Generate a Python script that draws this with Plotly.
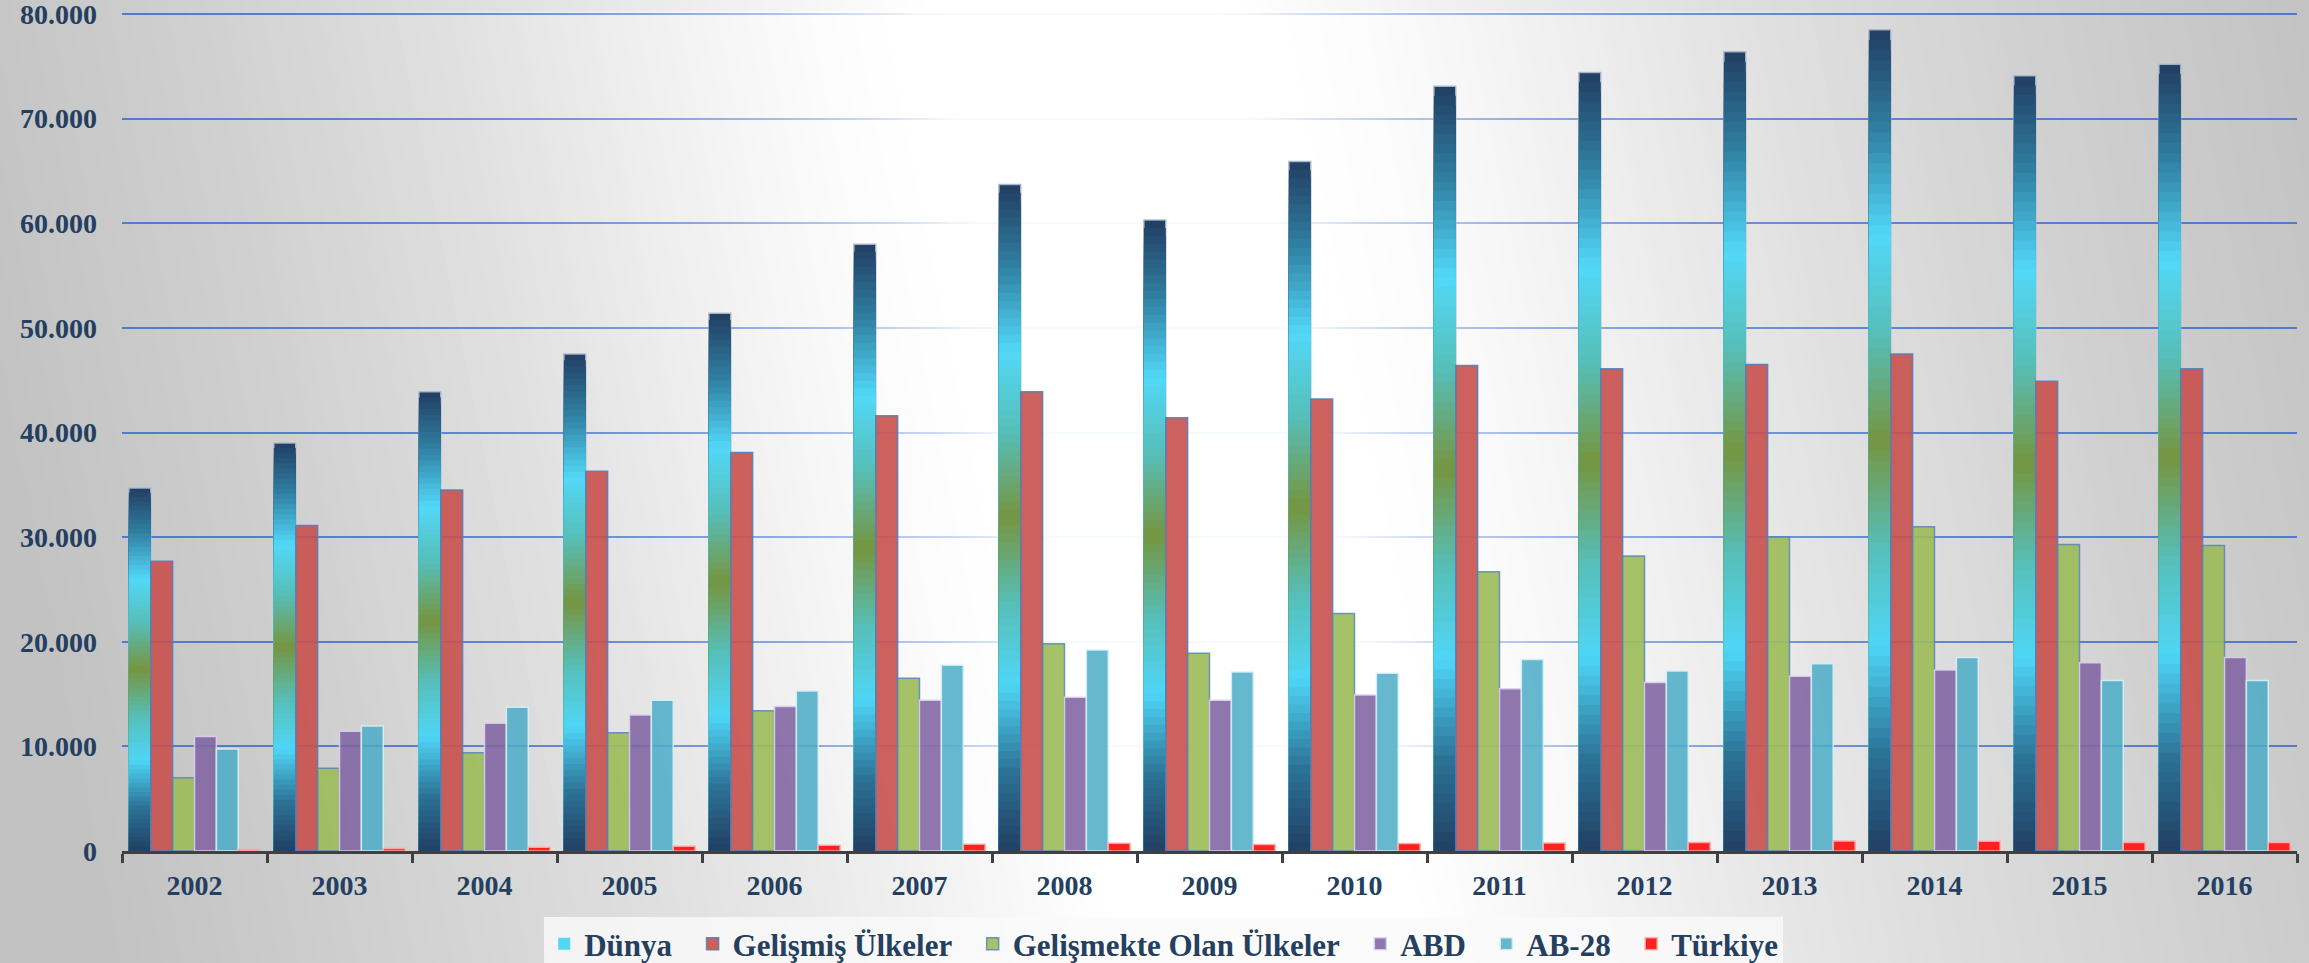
import numpy as np
import plotly.graph_objects as go

# ---------------- data ----------------
years = ["2002", "2003", "2004", "2005", "2006", "2007", "2008", "2009",
         "2010", "2011", "2012", "2013", "2014", "2015", "2016"]
dunya = [34700, 39000, 43900, 47500, 51400, 58000, 63700, 60300,
         65900, 73100, 74400, 76400, 78500, 74100, 75200]
gelismis = [27700, 31100, 34500, 36300, 38100, 41600, 43900, 41400,
            43200, 46400, 46100, 46500, 47500, 44900, 46100]
gelismekte = [7000, 7900, 9400, 11300, 13400, 16500, 19800, 18900,
              22700, 26700, 28200, 30000, 31000, 29300, 29200]
abd = [10950, 11450, 12200, 13000, 13800, 14400, 14700, 14400,
       14900, 15500, 16100, 16700, 17300, 18000, 18500]
ab28 = [9750, 11950, 13750, 14400, 15300, 17750, 19200, 17100,
        17000, 18300, 17200, 17900, 18500, 16300, 16300]
turkiye = [150, 250, 350, 450, 550, 650, 750, 610,
           710, 760, 820, 950, 920, 810, 810]
y_ticks = [0, 10000, 20000, 30000, 40000, 50000, 60000, 70000, 80000]

# ---------------- geometry / style ----------------
W, H = 2309, 963
PL, PR, P80, PB = 122, 2297, 14, 851          # plot area / 80.000 line in pixels
YMAX = 80300                                   # small headroom so the top line is drawn
scale = (PB - P80) / 80000.0                   # px per unit
PT = PB - YMAX * scale
xdom = [PL / W, PR / W]
ydom = [(H - PB) / H, (H - PT) / H]
NAVY = "#243f60"
FONT = "Liberation Serif"
GAP = "\u00a0\u00a0"                           # extra spacing between legend entries


def brightness(xp, yp):
    xc = 1080 + 0.2 * yp
    d = xp - xc
    span = np.where(d < 0, 1000.0, 1080.0)
    t = np.clip((np.abs(d) - 160) / span, 0, 1)
    return 1 - t ** 0.9


fig = go.Figure()

# subplot 1: background gradient over the whole canvas
bx = np.linspace(0, W, 90)
by = np.linspace(0, H, 30)
BX, BY = np.meshgrid(bx, by)
fig.add_trace(go.Heatmap(
    x=bx, y=by, z=brightness(BX, BY), zmin=0, zmax=1,
    colorscale=[[0, "#c2c2c2"], [0.5, "#dedede"], [1, "#ffffff"]],
    zsmooth="best", showscale=False, hoverinfo="skip",
    xaxis="x", yaxis="y"))

# subplot 2: gridlines + a white glow above them that fades them in the centre
gx = np.linspace(PL, PR, 80)
gv = np.linspace(0, YMAX, 30)
GX, GV = np.meshgrid(gx, gv)
glow = brightness(GX, PB - GV * scale) ** 3
fig.add_trace(go.Heatmap(
    x=gx, y=gv, z=glow, zmin=0, zmax=1,
    colorscale=[[0, "rgba(255,255,255,0)"], [1, "rgba(255,255,255,0.95)"]],
    zsmooth="best", showscale=False, hoverinfo="skip",
    xaxis="x2", yaxis="y2"))

# ---------------- subplot 3: bars ----------------
stops = [(0.00, (0x21, 0x3f, 0x63)), (0.12, (0x2c, 0x73, 0x96)),
         (0.25, (0x4f, 0xd6, 0xf7)), (0.37, (0x56, 0xbf, 0xb8)),
         (0.50, (0x76, 0x95, 0x40)), (0.63, (0x56, 0xbf, 0xb8)),
         (0.75, (0x52, 0xd8, 0xf8)), (0.88, (0x2f, 0x7e, 0xa0)),
         (1.00, (0x22, 0x3e, 0x62))]


def grad(f):
    for (f0, c0), (f1, c1) in zip(stops[:-1], stops[1:]):
        if f0 <= f <= f1:
            u = (f - f0) / (f1 - f0)
            c = [round(a + (b - a) * u) for a, b in zip(c0, c1)]
            return "rgb(%d,%d,%d)" % tuple(c)
    return "rgb(34,62,98)"


N = 80
legend_k = round(N * 0.25 - 0.5)
for k in range(N):
    frac = (N - k) / N
    first = (k == 0)
    fig.add_trace(go.Bar(
        x=years, y=[v * frac for v in dunya],
        name="Dünya" + GAP, legendgroup="dunya", offsetgroup="d",
        showlegend=(k == legend_k),
        marker=dict(color=grad((N - k - 0.5) / N),
                    line=dict(color="rgba(170,185,205,0.9)" if (first or k == legend_k) else "rgba(0,0,0,0)",
                              width=1.5 if first else 0)),
        hovertemplate="Dünya %{x}: %{y:,.0f}<extra></extra>" if first else None,
        hoverinfo=None if first else "skip",
        xaxis="x3", yaxis="y3"))

series = [
    ("Gelişmiş Ülkeler", gelismis, "rgba(200,80,77,0.9)", "rgba(79,129,189,0.9)", "g"),
    ("Gelişmekte Olan Ülkeler", gelismekte, "rgba(155,187,89,0.9)", "rgba(79,129,189,0.8)", "go"),
    ("ABD", abd, "rgba(128,100,162,0.88)", "rgba(220,210,238,0.9)", "abd"),
    ("AB-28", ab28, "rgba(75,172,198,0.85)", "rgba(215,240,248,0.9)", "ab"),
    ("Türkiye", turkiye, "rgb(255,32,32)", "rgba(255,170,170,0.9)", "tr"),
]
for name, vals, col, lcol, og in series:
    fig.add_trace(go.Bar(
        x=years, y=vals, name=name + (GAP if og != "tr" else ""), offsetgroup=og,
        marker=dict(color=col, line=dict(color=lcol, width=1.5)),
        hovertemplate=name + " %{x}: %{y:,.0f}<extra></extra>",
        xaxis="x3", yaxis="y3"))

tickfont = dict(family=FONT, size=28, color=NAVY, weight=700)
hidden = dict(visible=False, showgrid=False, zeroline=False, fixedrange=True)

fig.update_layout(
    width=W, height=H,
    margin=dict(l=0, r=0, t=0, b=0, autoexpand=False),
    paper_bgcolor="#d6d6d6", plot_bgcolor="rgba(0,0,0,0)",
    separators=",.",
    barmode="group", bargap=0.095, bargroupgap=0,
    xaxis=dict(hidden, domain=[0, 1], range=[0, W], anchor="y"),
    yaxis=dict(hidden, domain=[0, 1], range=[H, 0], anchor="x"),
    xaxis2=dict(hidden, domain=xdom, range=[PL, PR], anchor="y2"),
    yaxis2=dict(domain=ydom, range=[0, YMAX], anchor="x2", tickvals=y_ticks,
                showgrid=True, gridcolor="rgba(68,114,206,0.9)", gridwidth=2,
                showticklabels=False, zeroline=False, showline=False, ticks="",
                fixedrange=True),
    xaxis3=dict(domain=xdom, anchor="y3", type="category",
                showgrid=False, showline=True, linecolor="#404040", linewidth=3,
                ticks="outside", tickson="boundaries", ticklen=9, tickwidth=3,
                tickcolor="#404040", tickfont=tickfont, ticklabelstandoff=7),
    yaxis3=dict(domain=ydom, anchor="x3", range=[0, YMAX], tickvals=y_ticks,
                tickformat=",.0f", showgrid=False, zeroline=False, showline=False,
                ticks="", tickfont=tickfont, ticklabelstandoff=24,
                ticklabeloverflow="allow"),
    legend=dict(orientation="h", x=0.504, xanchor="center", y=(H - 917) / H,
                yanchor="top", bgcolor="rgba(250,250,250,0.8)",
                font=dict(family=FONT, size=31, color=NAVY, weight=700),
                traceorder="normal"),
    showlegend=True,
)

fig.write_html("out.html", config={"displayModeBar": False},
               post_script="document.body.style.margin='0';")
